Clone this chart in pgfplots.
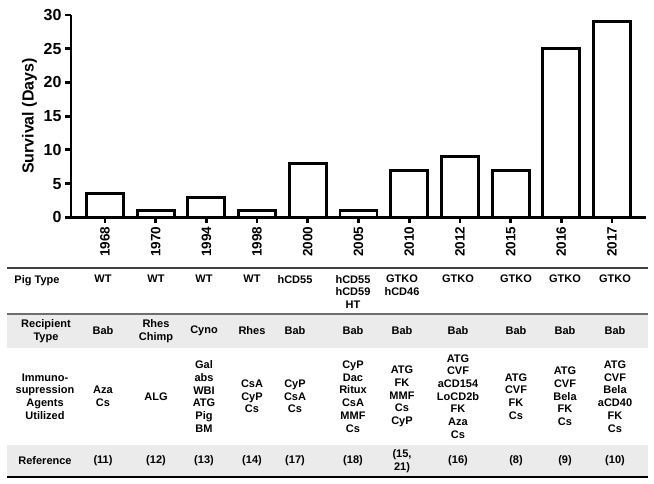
\documentclass[border=0pt]{standalone}
\usepackage{fontspec}
\setmainfont{Liberation Sans}
\usepackage{pgfplots}
\pgfplotsset{compat=1.18}

\definecolor{rowgray}{RGB}{235,235,235}
\definecolor{rulegray}{RGB}{110,110,110}
\newcommand{\tf}{\bfseries\fontsize{11bp}{12.7bp}\selectfont}

\begin{document}
\begin{tikzpicture}[x=1bp,y=1bp]
\path[use as bounding box] (0,-484) rectangle (654,0);

% table shading and rules
\fill[rowgray] (7,-314) rectangle (648,-348);
\fill[rowgray] (7,-445) rectangle (648,-477);
\draw[line width=1.2bp, black!75] (7,-268) -- (648,-268);
\draw[line width=2bp, rulegray] (7,-314) -- (648,-314);
\draw[line width=1.4bp, black] (7,-477) -- (648,-477);

\begin{axis}[at={(71bp,-217.3bp)}, anchor=south west,
  scale only axis, width=575bp, height=202.3bp,
  xmin=-0.67, xmax=10.67, ymin=0, ymax=30,
  axis x line*=bottom, axis y line*=left,
  axis line style={line width=2.8bp},
  ytick={0,5,...,30}, xtick={0,...,10},
  xticklabels={1968,1970,1994,1998,2000,2005,2010,2012,2015,2016,2017},
  tick align=outside, major tick length=6bp,
  tick style={line width=2.8bp, black},
  /pgf/number format/assume math mode=true,
  yticklabel style={font=\bfseries\fontsize{16bp}{16bp}\selectfont},
  xticklabel style={rotate=90, anchor=east, font=\bfseries\fontsize{13.5bp}{13.5bp}\selectfont},
  ylabel={Survival (Days)},
  ylabel style={font=\bfseries\fontsize{16bp}{16bp}\selectfont},
  clip=false]
  \addplot[ybar, bar width=37bp, fill=white, draw=black, line width=2.9bp]
    coordinates {(0,3.5) (1,1) (2,3) (3,1) (4,8) (5,1) (6,7) (7,9) (8,7) (9,25) (10,29)};
\end{axis}

% row labels
\node[anchor=north, inner sep=0, font=\tf] at (37,-275) {Pig Type};
\node[align=center, inner sep=0, font=\tf] at (46,-331) {Recipient\\Type};
\node[align=center, inner sep=0, font=\tf] at (45,-396.5) {Immuno-\\supression\\Agents\\Utilized};
\node[inner sep=0, font=\tf] at (45,-461) {Reference};

% table cells
\foreach \x/\p/\r/\d/\f in {
  103/{WT}/{Bab}/{Aza\\Cs}/{(11)},
  156/{WT}/{Rhes\\Chimp}/{ALG}/{(12)},
  204/{WT}/{Cyno}/{Gal\\abs\\WBI\\ATG\\Pig\\BM}/{(13)},
  252/{WT}/{Rhes}/{CsA\\CyP\\Cs}/{(14)},
  295/{hCD55}/{Bab}/{CyP\\CsA\\Cs}/{(17)},
  353/{hCD55\\hCD59\\HT}/{Bab}/{CyP\\Dac\\Ritux\\CsA\\MMF\\Cs}/{(18)},
  402/{GTKO\\hCD46}/{Bab}/{ATG\\FK\\MMF\\Cs\\CyP}/{(15,\\21)},
  458/{GTKO}/{Bab}/{ATG\\CVF\\aCD154\\LoCD2b\\FK\\Aza\\Cs}/{(16)},
  516/{GTKO}/{Bab}/{ATG\\CVF\\FK\\Cs}/{(8)},
  565/{GTKO}/{Bab}/{ATG\\CVF\\Bela\\FK\\Cs}/{(9)},
  615/{GTKO}/{Bab}/{ATG\\CVF\\Bela\\aCD40\\FK\\Cs}/{(10)}} {
  \node[anchor=north, align=center, inner sep=0, font=\tf] at (\x,-275) {\p};
  \node[align=center, inner sep=0, font=\tf] at (\x,-331) {\r};
  \node[align=center, inner sep=0, font=\tf] at (\x,-396.5) {\d};
  \node[align=center, inner sep=0, font=\tf] at (\x,-461) {\f};
}
\end{tikzpicture}
\end{document}
